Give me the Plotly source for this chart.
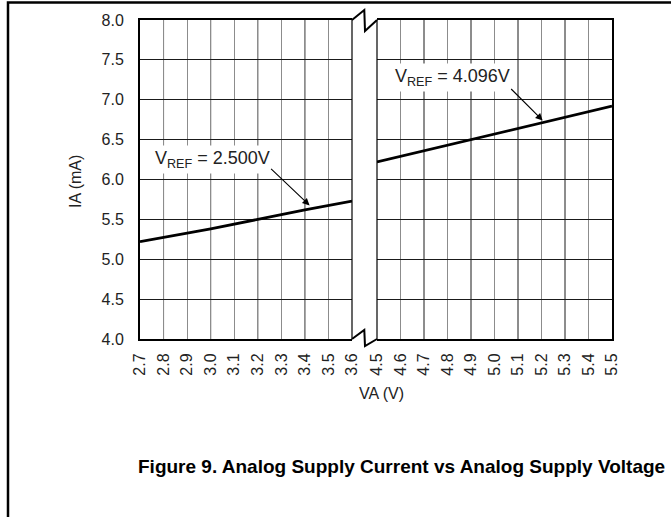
import plotly.graph_objects as go

# ---- data ----
va_low = [2.7, 3.0, 3.2, 3.4, 3.6]
ia_low = [5.22, 5.38, 5.50, 5.62, 5.73]          # VREF = 2.500V
va_high = [4.5, 4.9, 5.2, 5.5]
ia_high = [6.22, 6.50, 6.71, 6.92]               # VREF = 4.096V

x_ticks_low = [2.7, 2.8, 2.9, 3.0, 3.1, 3.2, 3.3, 3.4, 3.5, 3.6]
x_ticks_high = [4.5, 4.6, 4.7, 4.8, 4.9, 5.0, 5.1, 5.2, 5.3, 5.4, 5.5]
x_dark_low = [2.8, 3.0, 3.2, 3.4]
x_dark_high = [4.7, 4.9, 5.1, 5.3]
y_ticks = [4.0, 4.5, 5.0, 5.5, 6.0, 6.5, 7.0, 7.5, 8.0]

title_x = "VA (V)"
title_y = "IA (mA)"
caption = "Figure 9. Analog Supply Current vs Analog Supply Voltage"
label_low = "V<sub>REF</sub> = 2.500V"
label_high = "V<sub>REF</sub> = 4.096V"

# ---- layout geometry (pixels) ----
W, H = 671, 517
L, R, T, B = 140, 59, 20, 178
PW, PH = W - L - R, H - T - B
def px(x):
    return (x - L) / PW
def py(y):
    return (T + PH - y) / PH

dom1 = [0, px(352)]
dom2 = [px(377), 1]

FONT = "Liberation Sans, Arial, Helvetica, sans-serif"
GRID_GRAY = "#8c8c8c"
GRID_DARK = "#1a1a1a"
TXT = "#222"

fig = go.Figure()
fig.add_trace(go.Scatter(x=va_low, y=ia_low, mode="lines", xaxis="x", yaxis="y",
                         line=dict(color="black", width=2.8), showlegend=False, hoverinfo="skip"))
fig.add_trace(go.Scatter(x=va_high, y=ia_high, mode="lines", xaxis="x2", yaxis="y2",
                         line=dict(color="black", width=2.8), showlegend=False, hoverinfo="skip"))

xcommon = dict(showgrid=True, gridcolor=GRID_GRAY, gridwidth=1, zeroline=False,
               showline=True, linecolor="black", linewidth=2, mirror=True,
               ticks="", tickangle=-90, ticklabelstandoff=6,
               tickfont=dict(family=FONT, size=16, color=TXT))
ycommon = dict(range=[4.0, 8.0], tickvals=y_ticks, showgrid=True, gridcolor=GRID_DARK,
               gridwidth=1, zeroline=False, ticks="")

fig.update_layout(
    width=W, height=H, autosize=False,
    margin=dict(l=L, r=R, t=T, b=B, pad=0),
    plot_bgcolor="white", paper_bgcolor="white",
    font=dict(family=FONT, size=16, color=TXT),
    xaxis=dict(domain=dom1, range=[2.7, 3.6], tickvals=x_ticks_low,
               ticktext=[f"{v:.1f}" for v in x_ticks_low], anchor="y", **xcommon),
    xaxis2=dict(domain=dom2, range=[4.5, 5.5], tickvals=x_ticks_high,
                ticktext=[f"{v:.1f}" for v in x_ticks_high], anchor="y2", **xcommon),
    yaxis=dict(anchor="x", showline=True, linecolor="black", linewidth=2,
               ticktext=[f"{v:.1f}" for v in y_ticks], ticklabelstandoff=11,
               tickfont=dict(family=FONT, size=16, color=TXT), **ycommon),
    yaxis2=dict(anchor="x2", side="right", showline=True, linecolor="black", linewidth=2,
                showticklabels=False, **ycommon),
)

shapes = []
# darker vertical grid lines
for v in x_dark_low:
    shapes.append(dict(type="line", xref="x", yref="paper", x0=v, x1=v, y0=0, y1=1,
                       line=dict(color=GRID_DARK, width=1), layer="below"))
for v in x_dark_high:
    shapes.append(dict(type="line", xref="x2", yref="paper", x0=v, x1=v, y0=0, y1=1,
                       line=dict(color=GRID_DARK, width=1), layer="below"))
# inner panel edges
for xx in (352, 377):
    shapes.append(dict(type="line", xref="paper", yref="paper", x0=px(xx), x1=px(xx), y0=0, y1=1,
                       line=dict(color="black", width=1.2)))
# break marks (top and bottom)
def zig(y0, up, down):
    pts = [(352, y0), (364.3, y0 - up), (365, y0 + down), (377, y0)]
    d = "M " + " L ".join(f"{px(a):.5f},{py(b):.5f}" for a, b in pts)
    return dict(type="path", xref="paper", yref="paper", path=d,
                line=dict(color="black", width=2))
shapes.append(zig(20, 10, 11))
shapes.append(zig(339, 9, 7))
# outer frame (top and left edges of the page box)
shapes.append(dict(type="rect", xref="paper", yref="paper", x0=px(8), x1=px(680), y0=py(2.5), y1=py(530),
                   line=dict(color="black", width=2.5), fillcolor="rgba(0,0,0,0)"))
fig.update_layout(shapes=shapes)

ann = []
ann.append(dict(text=label_low, xref="x", yref="y", x=2.753, y=6.245, xanchor="left", yanchor="middle",
                showarrow=False, bgcolor="white", borderpad=2,
                font=dict(family=FONT, size=18, color=TXT)))
ann.append(dict(text=label_high, xref="x2", yref="y2", x=4.563, y=7.285, xanchor="left", yanchor="middle",
                showarrow=False, bgcolor="white", borderpad=2,
                font=dict(family=FONT, size=18, color=TXT)))
# arrows
ann.append(dict(text="", xref="x", yref="y", x=3.42, y=5.675, ax=-40, ay=-38, axref="pixel", ayref="pixel",
                showarrow=True, arrowhead=2, arrowsize=1.3, arrowwidth=1.1, arrowcolor="black"))
ann.append(dict(text="", xref="x2", yref="y2", x=5.205, y=6.74, ax=-33, ay=-33, axref="pixel", ayref="pixel",
                showarrow=True, arrowhead=2, arrowsize=1.3, arrowwidth=1.1, arrowcolor="black"))
# axis titles and caption
ann.append(dict(text=title_x, xref="paper", yref="paper", x=px(381), y=py(393), showarrow=False,
                xanchor="center", yanchor="middle", font=dict(family=FONT, size=16, color=TXT)))
ann.append(dict(text=title_y, xref="paper", yref="paper", x=px(75), y=py(182), showarrow=False,
                textangle=-90, xanchor="center", yanchor="middle", font=dict(family=FONT, size=16, color=TXT)))
ann.append(dict(text="<b>" + caption + "</b>", xref="paper", yref="paper", x=px(401), y=py(467),
                showarrow=False, xanchor="center", yanchor="middle",
                font=dict(family=FONT, size=19, color="black")))
fig.update_layout(annotations=ann)

fig.write_html("out.html",
               config={"displayModeBar": False, "staticPlot": True},
               post_script="document.body.style.margin='0';document.body.style.overflow='hidden';")
